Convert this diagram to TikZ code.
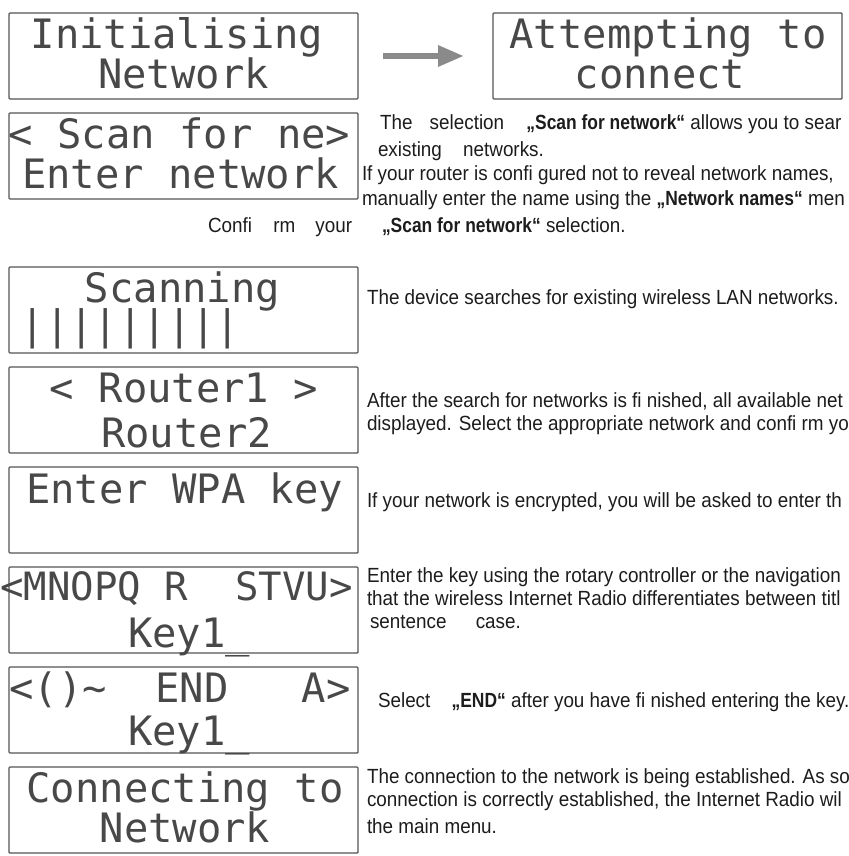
\documentclass[tikz,border=0pt]{standalone}
\usepackage{fontspec}
\usepackage{xcolor}
\usepackage{tikz}
\usetikzlibrary{positioning,arrows.meta}
\newfontfamily\lcdfont{DejaVu Sans Mono}
\newfontfamily\dscfont[FakeStretch=0.92,BoldFeatures={FakeStretch=0.85}]{Liberation Sans}
\definecolor{lcdg}{RGB}{72,72,72}
\definecolor{frmg}{RGB}{85,85,85}
\definecolor{arrg}{RGB}{138,138,138}
\definecolor{txtg}{RGB}{28,28,28}
\newcommand{\wsp}[1]{\hspace{#1pt}}
\tikzset{
	every node/.style = { inner sep=0pt, outer sep=0pt },
	lcd/.style = { draw=frmg, line width=1.4pt, rounded corners=1pt, minimum width=349pt, minimum height=86pt },
	lcdtxt/.style = { anchor=base, text=lcdg, font=\lcdfont\fontsize{40.5}{40.5}\selectfont },
	dsc/.style = { anchor=base west, text=txtg, font=\dscfont\fontsize{20.5}{23.5}\selectfont },
	flow/.style = { draw=arrg, line width=6pt, -{Triangle[length=26pt,width=20pt]} },
}
\begin{document}
\begin{tikzpicture}[x=1pt,y=-1pt,node distance=14pt]
\useasboundingbox (0,0) rectangle (848,856);
\clip (0,0) rectangle (848,856);

\node (ini) [lcd] at (183.5,56)      {};
\node (att) [lcd,right=135pt of ini] {};
\node (scn) [lcd,below=of ini]       {};
\node (prg) [lcd,below=68pt of scn]  {};
\node (rtr) [lcd,below=of prg]       {};
\node (wpa) [lcd,below=of rtr]       {};
\node (key) [lcd,below=of wpa]       {};
\node (end) [lcd,below=of key]       {};
\node (con) [lcd,below=of end]       {};
\draw[flow,shorten <=25pt,shorten >=29pt] (ini) -- (att);

\node (ini1) [lcdtxt] at (177,49)    {Initialising};
\node (ini2) [lcdtxt] at (183.5,89)  {Network};
\node (att1) [lcdtxt] at (668,49)    {Attempting to};
\node (att2) [lcdtxt] at (660,89)    {connect};
\node (scn1) [lcdtxt] at (179.5,148) {< Scan for ne>};
\node (scn2) [lcdtxt] at (180.5,188) {Enter network};
\node (prg1) [lcdtxt] at (182.5,302) {Scanning};
\node (prg2) [lcdtxt] at (130.5,339) {|||||||||};
\node (rtr1) [lcdtxt] at (184,402)   {< Router1 >};
\node (rtr2) [lcdtxt] at (186.5,447) {Router2};
\node (wpa1) [lcdtxt] at (184.5,503) {Enter WPA key};
\node (key1) [lcdtxt,font=\lcdfont\fontsize{39}{39}\selectfont] at (176.5,600) {<MNOPQ R\ \ STVU>};
\node (key2) [lcdtxt] at (189,647)   {Key1\_};
\node (end1) [lcdtxt] at (180,702)   {<()\textasciitilde\ \ END\ \ \ A>};
\node (end2) [lcdtxt] at (189,745)   {Key1\_};
\node (con1) [lcdtxt] at (185,802)   {Connecting to};
\node (con2) [lcdtxt] at (185,842)   {Network};

\node (dscn1) [dsc] at (380,129) {The\wsp{12} selection\wsp{17} \textbf{„Scan for network“} allows you to sear};
\node (dscn2) [dsc] at (378,156) {existing\wsp{16} networks.};
\node (dscn3) [dsc] at (362,180) {If your router is confi gured not to reveal network names,};
\node (dscn4) [dsc] at (362,205) {manually enter the name using the \textbf{„Network names“} men};
\node (dscn5) [dsc] at (382,232) {\textbf{„Scan for network“} selection.};
\node (dscn6) [dsc] at (208,232) {Confi\wsp{16} rm\wsp{15} your};
\node (dprg)  [dsc] at (367,304) {The device searches for existing wireless LAN networks.};
\node (drtr1) [dsc] at (367,407) {After the search for networks is fi nished, all available net};
\node (drtr2) [dsc] at (367,430) {displayed. Select the appropriate network and confi rm yo};
\node (dwpa)  [dsc] at (367,507) {If your network is encrypted, you will be asked to enter th};
\node (dkey1) [dsc] at (367,582) {Enter the key using the rotary controller or the navigation};
\node (dkey2) [dsc] at (367,605) {that the wireless Internet Radio differentiates between titl};
\node (dkey3) [dsc] at (370,628) {sentence\wsp{24} case.};
\node (dend)  [dsc] at (378,707) {Select\wsp{16} \textbf{„END“} after you have fi nished entering the key.};
\node (dcon1) [dsc] at (367,783) {The connection to the network is being established. As so};
\node (dcon2) [dsc] at (367,806) {connection is correctly established, the Internet Radio wil};
\node (dcon3) [dsc] at (367,833) {the main menu.};

\end{tikzpicture}
\end{document}
